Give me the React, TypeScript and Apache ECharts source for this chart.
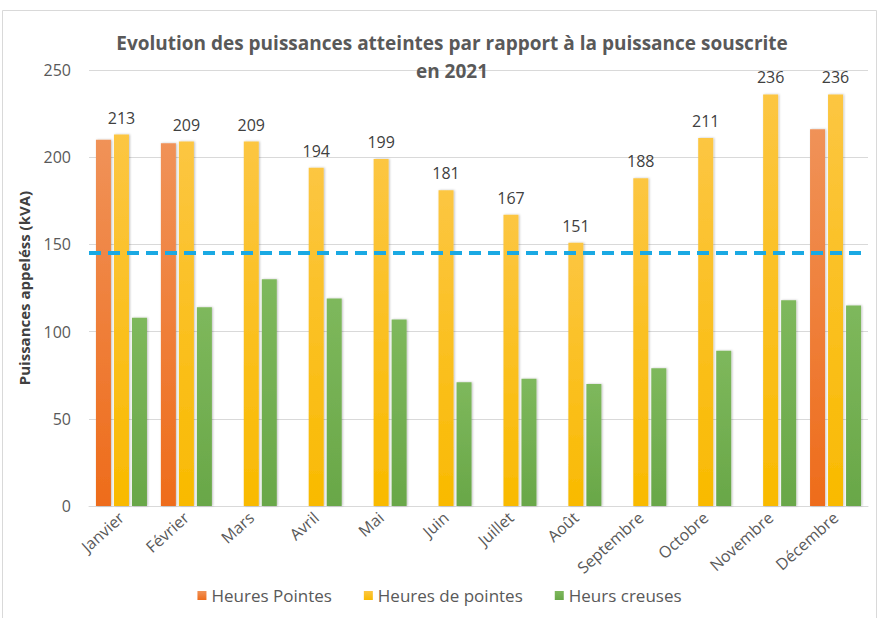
import React, { useEffect, useRef } from "react";
import * as echarts from "echarts";

const months = ["Janvier", "Février", "Mars", "Avril", "Mai", "Juin", "Juillet", "Août", "Septembre", "Octobre", "Novembre", "Décembre"];
const heuresPointes = [210, 208, null, null, null, null, null, null, null, null, null, 216];
const heuresDePointes = [213, 209, 209, 194, 199, 181, 167, 151, 188, 211, 236, 236];
const heursCreuses = [108, 114, 130, 119, 107, 71, 73, 70, 79, 89, 118, 115];
const puissanceSouscrite = 145;
const yTicks = { min: 0, max: 250, interval: 50 };

const grad = (top: string, bottom: string) =>
  new echarts.graphic.LinearGradient(0, 0, 0, 1, [
    { offset: 0, color: top },
    { offset: 1, color: bottom },
  ]);

const FONT = "'Open Sans', sans-serif";

export default function App() {
  const ref = useRef<HTMLDivElement>(null);
  useEffect(() => {
    document.body.style.margin = "0";
    const chart = echarts.init(ref.current!, null, { renderer: "svg" });
    const shadow = { shadowColor: "rgba(0,0,0,0.25)", shadowBlur: 2, shadowOffsetX: 1, shadowOffsetY: 0 };
    chart.setOption({
      animation: false,
      backgroundColor: "#ffffff",
      textStyle: { fontFamily: FONT },
      graphic: [
        {
          type: "rect",
          shape: { x: 2.5, y: 10.5, width: 874, height: 620 },
          style: { fill: "none", stroke: "#d9d9d9", lineWidth: 1 },
          silent: true,
        },
      ],
      title: {
        text: "Evolution des puissances atteintes par rapport à la puissance souscrite\nen 2021",
        left: 447,
        top: 24,
        textAlign: "center",
        textStyle: {
          fontFamily: FONT,
          fontSize: 19,
          fontWeight: "bold",
          color: "#595959",
          lineHeight: 28,
        },
      },
      legend: {
        bottom: 9,
        left: "center",
        itemWidth: 9,
        itemHeight: 9,
        itemGap: 32,
        icon: "rect",
        textStyle: { fontSize: 17, color: "#595959", fontFamily: FONT },
        data: ["Heures Pointes", "Heures de pointes", "Heurs creuses"],
      },
      grid: { left: 89, right: 11, top: 70, bottom: 112 },
      xAxis: {
        type: "category",
        data: months,
        axisLine: { lineStyle: { color: "#d9d9d9" } },
        axisTick: { show: false },
        axisLabel: { rotate: 42, fontSize: 16, color: "#595959", margin: 9, interval: 0 },
      },
      yAxis: {
        type: "value",
        min: yTicks.min,
        max: yTicks.max,
        interval: yTicks.interval,
        name: "Puissances appeléss (kVA)",
        nameLocation: "middle",
        nameRotate: 90,
        nameGap: 58,
        nameTextStyle: { fontSize: 15, fontWeight: "bold", color: "#404040" },
        axisLine: { show: false },
        axisTick: { show: false },
        axisLabel: { fontSize: 16, color: "#595959", margin: 18 },
        splitLine: { lineStyle: { color: "#d9d9d9" } },
      },
      series: [
        {
          name: "Heures Pointes",
          type: "bar",
          data: heuresPointes,
          barWidth: 15,
          barGap: "20%",
          itemStyle: { color: grad("#f09258", "#ee6c1b"), ...shadow },
        },
        {
          name: "Heures de pointes",
          type: "bar",
          data: heuresDePointes,
          barWidth: 15,
          barGap: "20%",
          itemStyle: { color: grad("#fcc642", "#f9ba00"), ...shadow },
          label: {
            show: true,
            position: "top",
            distance: 9,
            fontSize: 16,
            color: "#404040",
          },
          markLine: {
            silent: true,
            symbol: "none",
            label: { show: false },
            lineStyle: { color: "#1aa9e3", width: 4, type: [12, 7] },
            data: [{ yAxis: puissanceSouscrite }],
          },
        },
        {
          name: "Heurs creuses",
          type: "bar",
          data: heursCreuses,
          barWidth: 15,
          barGap: "20%",
          itemStyle: { color: grad("#7eb85c", "#69a748"), ...shadow },
        },
      ],
    });
    return () => chart.dispose();
  }, []);
  return <div ref={ref} style={{ width: 879, height: 618 }} />;
}
